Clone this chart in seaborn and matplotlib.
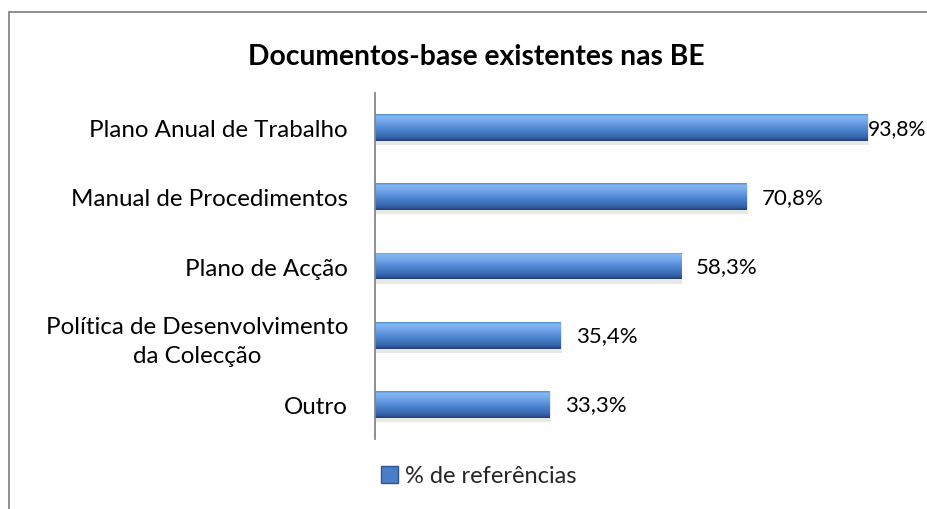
import matplotlib
matplotlib.use("Agg")
import matplotlib.pyplot as plt
import seaborn as sns
import numpy as np
import pandas as pd
from matplotlib.colors import LinearSegmentedColormap
from matplotlib.patches import Rectangle, Patch

categories = ["Plano Anual de Trabalho", "Manual de Procedimentos", "Plano de Acção",
              "Política de Desenvolvimento\nda Colecção", "Outro"]
values = [93.8, 70.8, 58.3, 35.4, 33.3]
value_labels = ["93,8%", "70,8%", "58,3%", "35,4%", "33,3%"]
series_name = "% de referências"
title = "Documentos-base existentes nas BE"

sns.set_theme(style="white")
plt.rcParams['font.family'] = ['Lato', 'DejaVu Sans']

W, H = 927, 510
fig = plt.figure(figsize=(W / 100, H / 100), dpi=100)
fig.patch.set_facecolor("white")

# chart border (extends beyond the cropped image on right and bottom)
fig.patches.append(Rectangle((9 / W, -0.1), 1.2, 1 - 13 / H + 0.1, transform=fig.transFigure,
                             fill=False, edgecolor="#868686", linewidth=1.3))

ax = fig.add_axes([375 / W, 1 - 440 / H, (900 - 375) / W, (440 - 94) / H])
df = pd.DataFrame({"cat": categories, "val": values})
sns.barplot(data=df, x="val", y="cat", orient="h", width=0.39, color="#4a7ec8",
            ax=ax, saturation=1)

cmap = LinearSegmentedColormap.from_list("bar", [
    (0.0, "#5a8cd4"), (0.08, "#86b8f2"), (0.3, "#6ea3e8"), (0.55, "#4f86d2"),
    (0.85, "#3766ae"), (0.93, "#2d5692"), (1.0, "#1f3e6c")])
grad = np.linspace(0, 1, 64).reshape(-1, 1)
for p in ax.patches:
    x0, y0 = p.get_x(), p.get_y()
    w, h = p.get_width(), p.get_height()
    ax.add_patch(Rectangle((x0 + 0.2, y0 + h * 0.05), w, h * 1.1, facecolor="#bfbfbf",
                           alpha=0.35, edgecolor="none", zorder=p.get_zorder() - 0.1))
    im = ax.imshow(grad, aspect="auto", cmap=cmap, extent=(x0, x0 + w, y0 + h, y0),
                   zorder=p.get_zorder() + 0.1, interpolation="bilinear")
    im.set_clip_path(p)
    p.set_edgecolor("none")
ax.set_xlim(0, 100)
ax.set_ylim(len(categories) - 0.5, -0.5)

for i, (v, lab) in enumerate(zip(values, value_labels)):
    near_edge = v > 90
    ax.text(v + (0.1 if near_edge else 2.8), i, lab, va="center", ha="left",
            fontsize=15.2 if near_edge else 16.0, color="#000000")

ax.set_xlabel("")
ax.set_ylabel("")
ax.set_xticks([])
ax.tick_params(axis="y", length=0, pad=19.5, labelsize=17.4, labelcolor="#000000")
for t in ax.get_yticklabels():
    t.set_multialignment("center")
    t.set_linespacing(1.45)
for s in ["top", "right", "bottom"]:
    ax.spines[s].set_visible(False)
ax.spines["left"].set_color("#868686")
ax.spines["left"].set_linewidth(1.3)
ax.set_facecolor("none")

fig.text(476 / W, 1 - 57 / H, title, ha="center", va="center", fontsize=20.3,
         fontweight="bold", color="#000000")

handle = Patch(facecolor="#4a7ec8", edgecolor="#2c5590")
fig.legend([handle], [series_name], loc="center", bbox_to_anchor=(479 / W, 1 - 477 / H),
           frameon=False, fontsize=17, handlelength=0.7, handleheight=0.7,
           handletextpad=0.3)

fig.savefig("out.png", dpi=100, facecolor="white")
